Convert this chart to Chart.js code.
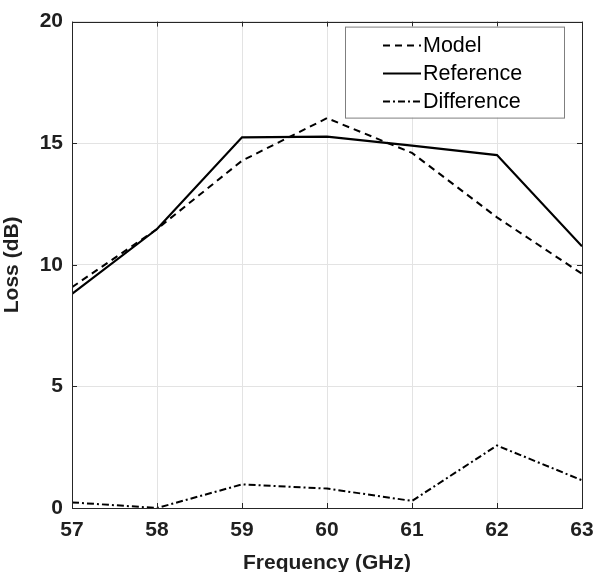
<!DOCTYPE html>
<html>
  <head>
    <title>Loss vs Frequency</title>
    <script src="https://cdn.jsdelivr.net/npm/chart.js"></script>
    <style>
      body {
        margin: 0;
        background: #ffffff;
      }
      .wrap {
        width: 595px;
        height: 572px;
      }
    </style>
  </head>

  <body>
    <div class="wrap">
      <canvas id="lossChart"></canvas>
    </div>

    <script>
      const frequency = [57, 58, 59, 60, 61, 62, 63];
      const model = [9.08, 11.47, 14.28, 16.03, 14.6, 11.95, 9.63];
      const reference = [8.8, 11.47, 15.24, 15.27, 14.9, 14.51, 10.76];
      const difference = [0.23, 0.0, 0.97, 0.8, 0.29, 2.57, 1.14];
      const yTicks = [0, 5, 10, 15, 20];

      function points(values) {
        return frequency.map((f, i) => ({ x: f, y: values[i] }));
      }

      const tickFont = { family: "'Liberation Sans', Arial", size: 21, weight: "bold" };
      const titleFont = { family: "'Liberation Sans', Arial", size: 21, weight: "bold" };

      // MATLAB style: full box with ticks pointing inwards, legend in a box
      const boxPlugin = {
        id: "box",
        afterDraw(chart) {
          const ctx = chart.ctx;
          const a = chart.chartArea;
          const xs = chart.scales.x;
          const ys = chart.scales.y;
          ctx.save();
          ctx.strokeStyle = "#262626";
          ctx.lineWidth = 1;
          ctx.beginPath();
          frequency.forEach((f) => {
            const px = Math.round(xs.getPixelForValue(f)) + 0.5;
            ctx.moveTo(px, a.bottom);
            ctx.lineTo(px, a.bottom - 5);
            ctx.moveTo(px, a.top);
            ctx.lineTo(px, a.top + 5);
          });
          yTicks.forEach((v) => {
            const py = Math.round(ys.getPixelForValue(v)) + 0.5;
            ctx.moveTo(a.left, py);
            ctx.lineTo(a.left + 5, py);
            ctx.moveTo(a.right, py);
            ctx.lineTo(a.right - 5, py);
          });
          ctx.stroke();
          ctx.strokeRect(
            Math.round(a.left) + 0.5,
            Math.round(a.top) + 0.5,
            Math.round(a.right - a.left),
            Math.round(a.bottom - a.top)
          );

          // legend
          const lx = a.right - 237;
          const ly = a.top + 5;
          const lw = 219;
          const lh = 91;
          ctx.fillStyle = "#ffffff";
          ctx.fillRect(lx, ly, lw, lh);
          ctx.strokeStyle = "#7f7f7f";
          ctx.strokeRect(lx + 0.5, ly + 0.5, lw, lh);
          ctx.font = "21.5px 'Liberation Sans', Arial";
          ctx.textBaseline = "middle";
          chart.data.datasets.forEach((ds, i) => {
            const cy = ly + 19 + i * 28;
            ctx.strokeStyle = "#000000";
            ctx.lineWidth = 2;
            ctx.setLineDash(ds.borderDash || []);
            ctx.beginPath();
            ctx.moveTo(lx + 38, cy);
            ctx.lineTo(lx + 76, cy);
            ctx.stroke();
            ctx.setLineDash([]);
            ctx.fillStyle = "#000000";
            ctx.fillText(ds.label, lx + 78, cy);
          });
          ctx.restore();
        },
      };

      const config = {
        type: "line",
        data: {
          datasets: [
            {
              label: "Model",
              data: points(model),
              borderColor: "#000000",
              borderWidth: 2,
              borderDash: [7, 5],
              pointRadius: 0,
              tension: 0,
            },
            {
              label: "Reference",
              data: points(reference),
              borderColor: "#000000",
              borderWidth: 2.2,
              pointRadius: 0,
              tension: 0,
            },
            {
              label: "Difference",
              data: points(difference),
              borderColor: "#000000",
              borderWidth: 2,
              borderDash: [7, 3, 2, 3],
              pointRadius: 0,
              tension: 0,
            },
          ],
        },
        options: {
          responsive: true,
          maintainAspectRatio: false,
          animation: false,
          layout: {
            padding: { top: 10, right: 13, left: 0, bottom: 0 },
          },
          plugins: {
            legend: { display: false },
            tooltip: { enabled: false },
          },
          scales: {
            x: {
              type: "linear",
              min: 57,
              max: 63,
              afterFit(scale) {
                scale.height = 64;
                scale.paddingLeft = 0;
                scale.paddingRight = 0;
              },
              afterBuildTicks(scale) {
                scale.ticks = frequency.map((v) => ({ value: v }));
              },
              grid: { color: "#e3e3e3", drawTicks: false },
              border: { display: false },
              ticks: { font: tickFont, color: "#1f1f1f", padding: 10, maxRotation: 0 },
              title: {
                display: true,
                text: "Frequency (GHz)",
                font: titleFont,
                color: "#1f1f1f",
                padding: { top: 3, bottom: -4 },
              },
            },
            y: {
              min: 0,
              max: 20,
              afterFit(scale) {
                scale.width = 72;
              },
              afterBuildTicks(scale) {
                scale.ticks = yTicks.map((v) => ({ value: v }));
              },
              grid: { color: "#e3e3e3", drawTicks: false },
              border: { display: false },
              ticks: { font: tickFont, color: "#1f1f1f", padding: 9 },
              title: {
                display: true,
                text: "Loss (dB)",
                font: titleFont,
                color: "#1f1f1f",
                padding: { top: 0, bottom: 6 },
              },
            },
          },
        },
        plugins: [boxPlugin],
      };

      const lossChart = new Chart(document.getElementById("lossChart"), config);
    </script>
  </body>
</html>
